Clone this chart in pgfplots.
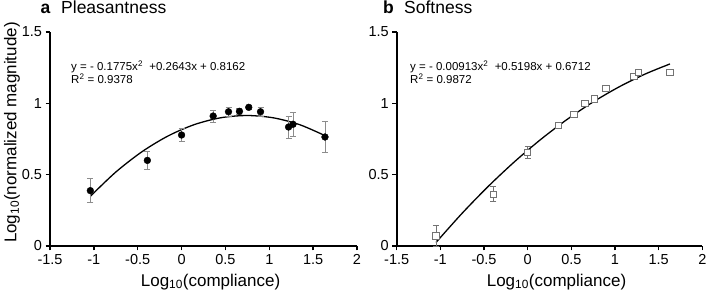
\documentclass[border=0pt]{standalone}
\usepackage{fontspec}
\setmainfont{Liberation Sans}
\usepackage{pgfplots}
\pgfplotsset{compat=1.18}
\definecolor{errgray}{RGB}{140,140,140}
\definecolor{sqgray}{RGB}{115,115,115}
\begin{document}
\begin{tikzpicture}[x=1pt,y=1pt]
\useasboundingbox (0,0) rectangle (706,296);
\pgfplotsset{
 panel/.style={
  scale only axis, height=214pt,
  anchor=south west,
  xmin=-1.5, xmax=2, ymin=0, ymax=1.5,
  axis lines*=left, axis line style={line width=1.6pt},
  tick align=outside, major tick length=4.5pt, tick style={line width=1.3pt, black},
  xtick={-1.5,-1,-0.5,0,0.5,1,1.5,2}, xticklabels={-1.5,-1,-0.5,0,0.5,1,1.5,2},
  ytick={0,0.5,1,1.5}, yticklabels={0,0.5,1,1.5},
  tick label style={font=\fontsize{14.5}{16}\selectfont},
  clip=false,
  xlabel={Log\textsubscript{10}(compliance)},
  label style={font=\fontsize{17}{19}\selectfont},
  xlabel style={at={(axis description cs:0.523,-0.168)}, anchor=center},
 }
}
\begin{axis}[panel, at={(50pt,50pt)}, width=307pt,
  ylabel={Log\textsubscript{10}(normalized magnitude)},
  ylabel style={at={(axis description cs:-0.124,0.53)}, anchor=center}]
\addplot[black, line width=1.3pt, smooth, no marks] coordinates {
 (-1.04,0.3484) (-0.75,0.5182) (-0.45,0.6614) (-0.15,0.7726) (0.15,0.8518)
 (0.45,0.8992) (0.75,0.9146) (1.05,0.8980) (1.35,0.8495) (1.64,0.7721)};
\addplot[only marks, mark=*, mark size=3.4pt, black,
  error bars/.cd, y dir=both, y explicit,
  error bar style={errgray, line width=0.9pt},
  error mark options={rotate=90, mark size=3pt, errgray, line width=0.9pt}]
 coordinates {
 (-1.04,0.388) +- (0,0.085)
 (-0.39,0.600) +- (0,0.063)
 (0.0,0.778) +- (0,0.048)
 (0.36,0.911) +- (0,0.042)
 (0.535,0.941) +- (0,0.03)
 (0.66,0.944) +- (0,0.02)
 (0.766,0.972) +- (0,0.012)
 (0.90,0.941) +- (0,0.03)
 (1.22,0.834) +- (0,0.077)
 (1.27,0.853) +- (0,0.084)
 (1.635,0.764) +- (0,0.11)};
\end{axis}
\begin{axis}[panel, at={(396.7pt,50pt)}, width=305.6pt]
\addplot[black, line width=1.3pt, smooth, no marks] coordinates {
 (-1.05,0.0247) (-0.75,0.2299) (-0.45,0.4188) (-0.15,0.5911) (0.15,0.7471)
 (0.45,0.8866) (0.75,1.0097) (1.05,1.1163) (1.35,1.2065) (1.63,1.2760)};
\addplot[only marks, mark=square*, mark size=3.1pt,
  mark options={draw=sqgray, fill=white, line width=1.1pt},
  error bars/.cd, y dir=both, y explicit,
  error bar style={sqgray, line width=0.9pt},
  error mark options={rotate=90, mark size=3pt, sqgray, line width=0.9pt}]
 coordinates {
 (-1.05,0.070) +- (0,0.075)
 (-0.393,0.363) +- (0,0.053)
 (0.0,0.657) +- (0,0.04)
 (0.355,0.843) +- (0,0.015)
 (0.53,0.923) +- (0,0.015)
 (0.656,0.998) +- (0,0.015)
 (0.763,1.030) +- (0,0.015)
 (0.897,1.103) +- (0,0.015)
 (1.218,1.186) +- (0,0.015)
 (1.272,1.217) +- (0,0.015)
 (1.63,1.217) +- (0,0.015)};
\end{axis}
\node[anchor=base west, inner sep=0] at (40.5,282) {\fontsize{17.5}{20}\selectfont\textbf{a}};
\node[anchor=base west, inner sep=0] at (61,282) {\fontsize{17.5}{20}\selectfont Pleasantness};
\node[anchor=base west, inner sep=0] at (383,282) {\fontsize{17.5}{20}\selectfont\textbf{b}};
\node[anchor=base west, inner sep=0] at (404,282) {\fontsize{17.5}{20}\selectfont Softness};
\node[anchor=base west, inner sep=0] at (71,225.5) {\fontsize{11.5}{13}\selectfont y = - 0.1775x\textsuperscript{2} \ +0.2643x + 0.8162};
\node[anchor=base west, inner sep=0] at (71,212.5) {\fontsize{11.5}{13}\selectfont R\textsuperscript{2} = 0.9378};
\node[anchor=base west, inner sep=0] at (410,225.5) {\fontsize{11.5}{13}\selectfont y = - 0.00913x\textsuperscript{2} \ +0.5198x + 0.6712};
\node[anchor=base west, inner sep=0] at (410,212.5) {\fontsize{11.5}{13}\selectfont R\textsuperscript{2} = 0.9872};
\end{tikzpicture}
\end{document}
